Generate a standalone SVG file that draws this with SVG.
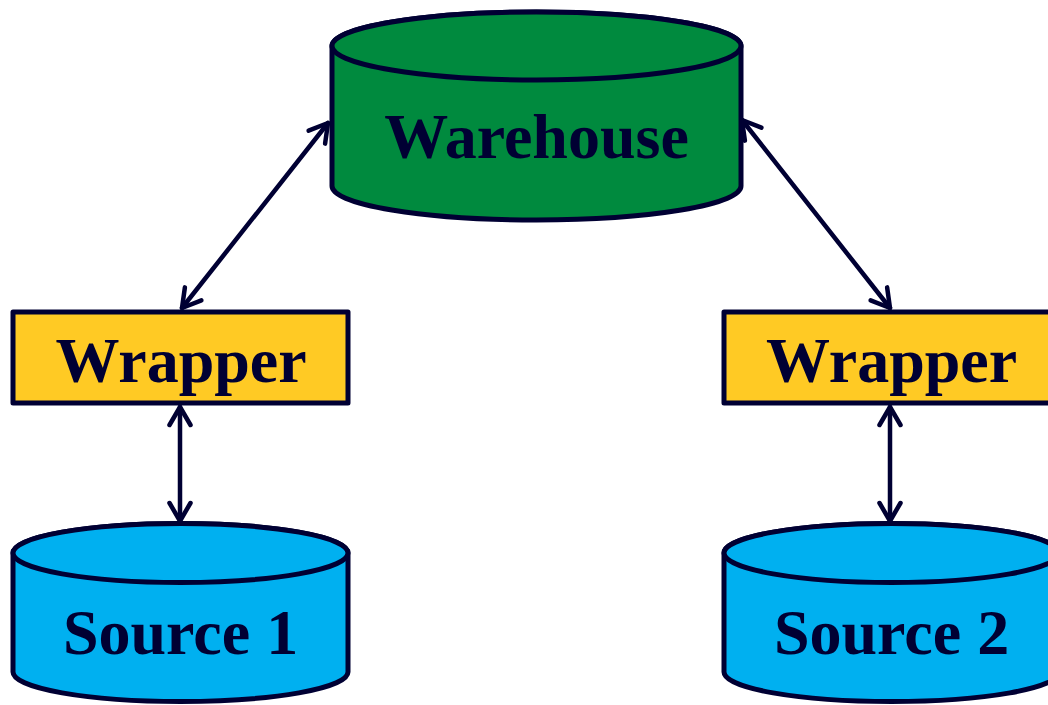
<svg xmlns="http://www.w3.org/2000/svg" width="1048" height="705" viewBox="0 0 1048 705">
  <style>
    .edge { stroke: #000033; stroke-width: 4.5; fill: none; stroke-linecap: round; }
    .outline { stroke: #000033; stroke-width: 5; stroke-linejoin: round; }
    .label { font-family: "Liberation Serif", "Times New Roman", serif; font-weight: bold; font-size: 64px; fill: #000033; text-anchor: middle; }
    .store { fill: #008A3E; }
    .wrap { fill: #FFCA24; }
    .src { fill: #00B0F0; }
  </style>
  <defs>
    <marker id="head" viewBox="-22 -13 26 26" refX="0" refY="0" markerWidth="26" markerHeight="26" markerUnits="userSpaceOnUse" orient="auto-start-reverse">
      <path d="M-18,-10.5 L0,0 L-18,10.5" fill="none" stroke="#000033" stroke-width="4.5" stroke-linecap="round" stroke-linejoin="round"/>
    </marker>
  </defs>

  <!-- connectors -->
  <g id="connectors">
    <line class="edge" x1="182" y1="308" x2="328" y2="123" marker-start="url(#head)" marker-end="url(#head)"/>
    <line class="edge" x1="890" y1="308" x2="742" y2="120" marker-start="url(#head)" marker-end="url(#head)"/>
    <line class="edge" x1="180" y1="407" x2="180" y2="521" marker-start="url(#head)" marker-end="url(#head)"/>
    <line class="edge" x1="890" y1="407" x2="890" y2="521" marker-start="url(#head)" marker-end="url(#head)"/>
  </g>

  <!-- central warehouse -->
  <g id="warehouse">
    <path class="store outline" d="M332,46 L332,186 A204.5,34 0 0 0 741,186 L741,46 A204.5,34 0 0 0 332,46 Z"/>
    <ellipse class="store outline" cx="536.5" cy="46" rx="204.5" ry="34"/>
    <text class="label" x="536.5" y="158">Warehouse</text>
  </g>

  <!-- wrappers -->
  <g id="wrapper-1">
    <rect class="wrap outline" x="13" y="312" width="335" height="91"/>
    <text class="label" x="181" y="382">Wrapper</text>
  </g>
  <g id="wrapper-2">
    <rect class="wrap outline" x="724" y="312" width="335" height="91"/>
    <text class="label" x="891.5" y="382">Wrapper</text>
  </g>

  <!-- sources -->
  <g id="source-1">
    <path class="src outline" d="M13,553 L13,672 A167.5,29.5 0 0 0 348,672 L348,553 A167.5,29.5 0 0 0 13,553 Z"/>
    <ellipse class="src outline" cx="180.5" cy="553" rx="167.5" ry="29.5"/>
    <text class="label" x="180.5" y="654">Source 1</text>
  </g>
  <g id="source-2">
    <path class="src outline" d="M724,553 L724,672 A167.5,29.5 0 0 0 1059,672 L1059,553 A167.5,29.5 0 0 0 724,553 Z"/>
    <ellipse class="src outline" cx="891.5" cy="553" rx="167.5" ry="29.5"/>
    <text class="label" x="891.5" y="654">Source 2</text>
  </g>
</svg>
